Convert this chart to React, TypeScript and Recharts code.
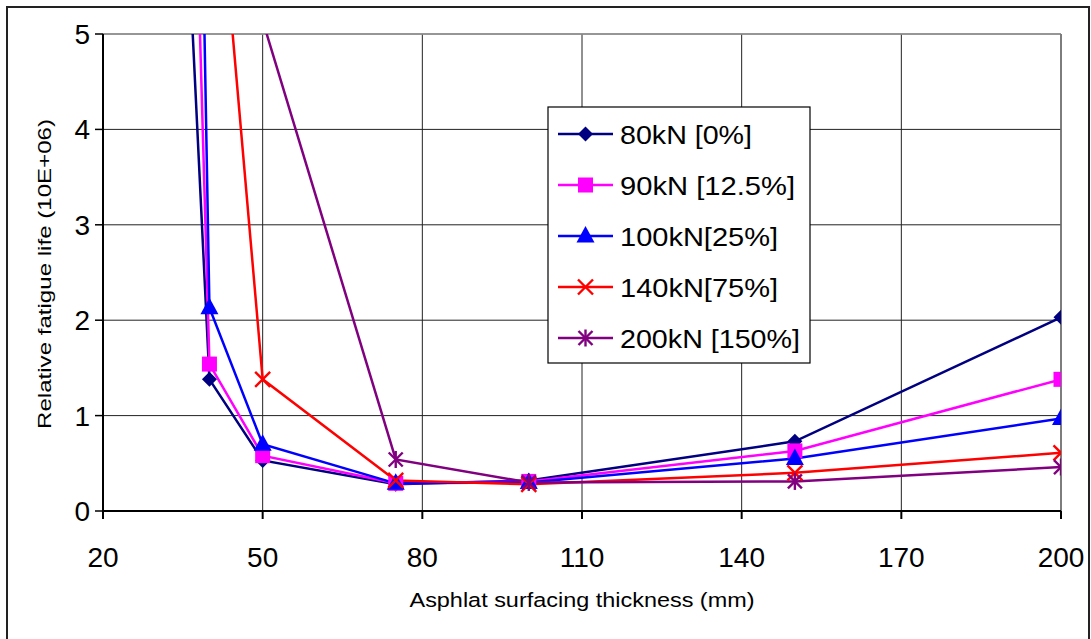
import React from 'react';
import { LineChart, Line, XAxis, YAxis, CartesianGrid, ReferenceLine, Legend, Label } from 'recharts';

// Asphalt surfacing thickness (mm)
const thickness = [30, 40, 50, 75, 100, 150, 200];
// Relative fatigue life (10E+06) per axle load
const load80kN = [12.9, 1.38, 0.53, 0.28, 0.32, 0.73, 2.03];
const load90kN = [21, 1.54, 0.58, 0.29, 0.31, 0.63, 1.38];
const load100kN = [33, 2.13, 0.7, 0.29, 0.3, 0.55, 0.97];
const load140kN = [14.3, 7.8, 1.38, 0.32, 0.28, 0.4, 0.61];
const load200kN = [25, 12, 5.14, 0.54, 0.3, 0.31, 0.46];

const seriesKeys = ['s80', 's90', 's100', 's140', 's200'];
const seriesNames = ['80kN [0%]', '90kN [12.5%]', '100kN[25%]', '140kN[75%]', '200kN [150%]'];
const seriesColors = ['#000080', '#FF00FF', '#0000FF', '#FF0000', '#800080'];
const seriesMarkers = ['diamond', 'square', 'triangle', 'x', 'star'];
const legendTextWidths = [132, 175, 158, 158, 180];

const xTicks = [20, 50, 80, 110, 140, 170, 200];
const yTicks = [0, 1, 2, 3, 4, 5];

const seriesValues = [load80kN, load90kN, load100kN, load140kN, load200kN];
const data = thickness.map((t, i) => {
  const row: any = { t };
  seriesKeys.forEach((k, s) => {
    row[k] = seriesValues[s][i];
  });
  return row;
});

const FONT = '"Liberation Sans", Arial, sans-serif';

function Marker({ cx, cy, kind, color }: { cx: number; cy: number; kind: string; color: string }) {
  if (cx == null || cy == null || isNaN(cx) || isNaN(cy)) return <g />;
  if (kind === 'diamond') {
    const r = 7.5;
    return <polygon points={`${cx},${cy - r} ${cx + r},${cy} ${cx},${cy + r} ${cx - r},${cy}`} fill={color} />;
  }
  if (kind === 'square') {
    const r = 7.5;
    return <rect x={cx - r} y={cy - r} width={2 * r} height={2 * r} fill={color} />;
  }
  if (kind === 'triangle') {
    return <polygon points={`${cx},${cy - 10} ${cx + 9},${cy + 6.5} ${cx - 9},${cy + 6.5}`} fill={color} />;
  }
  if (kind === 'x') {
    const r = 7.5;
    return (
      <g stroke={color} strokeWidth={2.4}>
        <line x1={cx - r} y1={cy - r} x2={cx + r} y2={cy + r} />
        <line x1={cx - r} y1={cy + r} x2={cx + r} y2={cy - r} />
      </g>
    );
  }
  const r = 7;
  return (
    <g stroke={color} strokeWidth={2.4}>
      <line x1={cx - r} y1={cy - r} x2={cx + r} y2={cy + r} />
      <line x1={cx - r} y1={cy + r} x2={cx + r} y2={cy - r} />
      <line x1={cx} y1={cy - r - 1.5} x2={cx} y2={cy + r + 1.5} />
    </g>
  );
}

function LegendBox() {
  return (
    <svg width={264} height={258} style={{ display: 'block' }}>
      <rect x={1} y={1} width={262} height={256} fill="#fff" stroke="#000" strokeWidth={1.2} />
      {seriesNames.map((name, i) => {
        const y = 28 + i * 51;
        return (
          <g key={name}>
            <line x1={11} y1={y} x2={66} y2={y} stroke={seriesColors[i]} strokeWidth={2.5} />
            <Marker cx={38.5} cy={y} kind={seriesMarkers[i]} color={seriesColors[i]} />
            <text
              x={73}
              y={y + 9.5}
              fontFamily={FONT}
              fontSize={26.5}
              fill="#000"
              textLength={legendTextWidths[i]}
              lengthAdjust="spacingAndGlyphs"
            >
              {name}
            </text>
          </g>
        );
      })}
    </svg>
  );
}

export default function App() {
  return (
    <div style={{ position: 'absolute', left: 0, top: 0, width: 1091, height: 639, overflow: 'hidden', background: '#fff' }}>
      <div
        style={{
          position: 'absolute',
          left: 6,
          top: 6,
          width: 1084,
          height: 633,
          boxSizing: 'border-box',
          borderTop: '2px solid #222',
          borderLeft: '2px solid #222',
          borderRight: '2px solid #222',
        }}
      />
      <div style={{ position: 'absolute', left: 0, top: 0 }}>
        <LineChart width={1091} height={639} data={data} margin={{ top: 34, right: 30, left: 0, bottom: 0 }}>
          <CartesianGrid stroke="#222" strokeWidth={1} />
          <XAxis
            dataKey="t"
            type="number"
            domain={[20, 200]}
            ticks={xTicks}
            allowDataOverflow
            height={128}
            axisLine={{ stroke: '#000', strokeWidth: 2 }}
            tickLine={{ stroke: '#000', strokeWidth: 2 }}
            tickSize={8}
            tickMargin={28}
            tick={{ fill: '#000', fontSize: 28, fontFamily: FONT }}
          >
            <Label
              content={() => (
                <text
                  x={582}
                  y={607}
                  textAnchor="middle"
                  fontFamily={FONT}
                  fontSize={20.5}
                  fill="#000"
                  textLength={345}
                  lengthAdjust="spacingAndGlyphs"
                >
                  Asphlat surfacing thickness (mm)
                </text>
              )}
            />
          </XAxis>
          <YAxis
            type="number"
            domain={[0, 5]}
            ticks={yTicks}
            allowDataOverflow
            width={103}
            axisLine={{ stroke: '#000', strokeWidth: 2 }}
            tickLine={{ stroke: '#000', strokeWidth: 1.5 }}
            tickSize={8}
            tickMargin={5}
            tick={{ fill: '#000', fontSize: 28, fontFamily: FONT }}
          >
            <Label
              content={() => (
                <text
                  x={0}
                  y={0}
                  transform="translate(51,274) rotate(-90)"
                  textAnchor="middle"
                  fontFamily={FONT}
                  fontSize={18}
                  fill="#000"
                  textLength={310}
                  lengthAdjust="spacingAndGlyphs"
                >
                  Relative fatigue life (10E+06)
                </text>
              )}
            />
          </YAxis>
          <ReferenceLine y={5} stroke="#999" strokeWidth={1.5} />
          <ReferenceLine x={200} stroke="#777" strokeWidth={1.5} />
          {seriesKeys.map((k, i) => (
            <Line
              key={k}
              dataKey={k}
              name={seriesNames[i]}
              stroke={seriesColors[i]}
              strokeWidth={2.5}
              isAnimationActive={false}
              dot={(p: any) => (
                <Marker key={`${k}-${p.index}`} cx={p.cx} cy={p.cy} kind={seriesMarkers[i]} color={seriesColors[i]} />
              )}
              activeDot={false}
            />
          ))}
          <Legend
            layout="vertical"
            align="center"
            verticalAlign="middle"
            wrapperStyle={{ left: 547, top: 106, width: 264, height: 258 }}
            content={() => <LegendBox />}
          />
        </LineChart>
      </div>
    </div>
  );
}
